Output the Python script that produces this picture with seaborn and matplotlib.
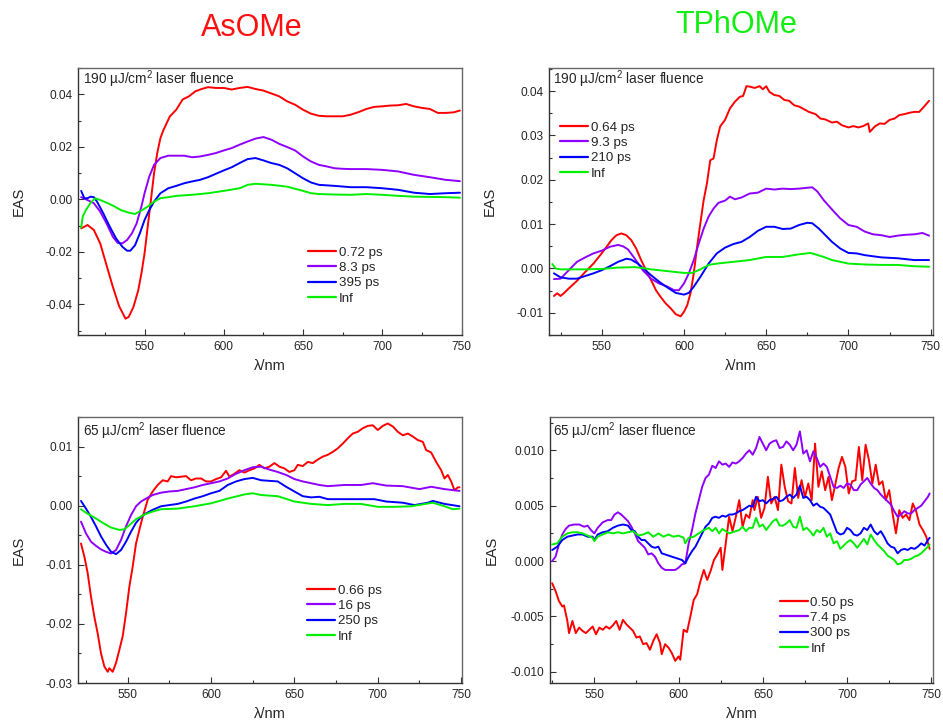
import matplotlib
matplotlib.use("Agg")
import matplotlib.pyplot as plt
import seaborn as sns
import pandas as pd
from matplotlib.ticker import MultipleLocator, FormatStrFormatter
from matplotlib.lines import Line2D

sns.set_style("ticks")
plt.rcParams["font.family"] = ["Liberation Sans", "DejaVu Sans"]
plt.rcParams["axes.unicode_minus"] = False
plt.rcParams["mathtext.default"] = "regular"

# ---------------- data (wavelength nm, EAS) ----------------
TITLES = ["AsOMe", "TPhOMe"]
FLUENCE = ["190 µJ/cm$^{2}$ laser fluence", "65 µJ/cm$^{2}$ laser fluence"]
SERIES_COLORS = ["#ff0000", "#8f00ff", "#0000ff", "#00ee00"]

LABELS_A190 = ["0.72 ps", "8.3 ps", "395 ps", "Inf"]
LABELS_T190 = ["0.64 ps", "9.3 ps", "210 ps", "Inf"]
LABELS_A65 = ["0.66 ps", "16 ps", "250 ps", "Inf"]
LABELS_T65 = ["0.50 ps", "7.4 ps", "300 ps", "Inf"]

A190_1 = [(510,-0.0111),(514,-0.0098),(518,-0.0117),(522,-0.0168),(526,-0.0251),(530,-0.0334),(534,-0.0408),(538,-0.0455),(540,-0.0448),(543,-0.0410),(546,-0.0347),(548,-0.0283),(550,-0.0206),(552,-0.0104),(554,-0.0003),(556,0.0099),(558,0.0176),(560,0.0233),(562,0.0265),(566,0.0316),(570,0.0341),(574,0.0380),(578,0.0392),(582,0.0411),(586,0.0420),(590,0.0427),(595,0.0424),(600,0.0424),(605,0.0418),(610,0.0424),(615,0.0428),(620,0.0420),(625,0.0414),(630,0.0403),(635,0.0392),(640,0.0373),(645,0.0360),(650,0.0341),(655,0.0326),(660,0.0318),(665,0.0316),(670,0.0316),(675,0.0316),(680,0.0322),(685,0.0332),(690,0.0344),(695,0.0352),(700,0.0354),(705,0.0357),(710,0.0358),(715,0.0363),(720,0.0354),(725,0.0348),(730,0.0344),(735,0.0329),(740,0.0329),(745,0.0331),(749,0.0338)]
A190_2 = [(510,0.0008),(514,-0.0003),(518,-0.0015),(522,-0.0047),(526,-0.0092),(530,-0.0143),(533,-0.0166),(536,-0.0168),(539,-0.0155),(542,-0.0130),(545,-0.0092),(548,-0.0028),(550,0.0023),(553,0.0087),(556,0.0131),(560,0.0157),(565,0.0166),(570,0.0166),(575,0.0166),(580,0.0160),(585,0.0163),(590,0.0169),(595,0.0176),(600,0.0186),(605,0.0195),(610,0.0208),(615,0.0220),(620,0.0231),(625,0.0237),(630,0.0227),(635,0.0211),(640,0.0199),(645,0.0186),(650,0.0163),(655,0.0144),(660,0.0131),(665,0.0125),(670,0.0118),(675,0.0116),(680,0.0115),(690,0.0115),(700,0.0112),(710,0.0106),(720,0.0093),(730,0.0084),(740,0.0074),(749,0.0069)]
A190_3 = [(510,0.0032),(512,0.0004),(514,0.0004),(516,0.0010),(518,0.0008),(520,-0.0009),(524,-0.0054),(528,-0.0104),(532,-0.0149),(536,-0.0181),(539,-0.0196),(541,-0.0196),(544,-0.0175),(547,-0.0130),(550,-0.0079),(553,-0.0041),(556,-0.0009),(560,0.0023),(565,0.0042),(570,0.0051),(575,0.0061),(580,0.0068),(585,0.0074),(590,0.0084),(595,0.0097),(600,0.0110),(605,0.0122),(610,0.0138),(615,0.0153),(620,0.0157),(625,0.0148),(630,0.0138),(635,0.0131),(640,0.0118),(645,0.0099),(650,0.0080),(655,0.0064),(660,0.0055),(670,0.0051),(680,0.0046),(690,0.0046),(700,0.0042),(710,0.0036),(720,0.0025),(730,0.0020),(740,0.0023),(749,0.0025)]
A190_4 = [(510,-0.0108),(511,-0.0066),(513,-0.0041),(516,-0.0013),(519,0.0004),(522,-0.0003),(526,-0.0013),(530,-0.0024),(535,-0.0041),(540,-0.0051),(544,-0.0056),(548,-0.0043),(552,-0.0028),(556,-0.0009),(560,0.0004),(565,0.0008),(570,0.0013),(580,0.0017),(590,0.0023),(600,0.0032),(610,0.0042),(615,0.0055),(620,0.0059),(630,0.0055),(640,0.0048),(650,0.0032),(655,0.0023),(660,0.0020),(670,0.0018),(680,0.0017),(690,0.0020),(700,0.0017),(710,0.0013),(720,0.0010),(730,0.0009),(740,0.0008),(749,0.0006)]

T190_1 = [(521,-0.0062),(523,-0.0056),(525,-0.0062),(527,-0.0056),(530,-0.0045),(535,-0.0028),(540,-0.0008),(545,0.0011),(550,0.0034),(553,0.0049),(556,0.0064),(559,0.0075),(562,0.0079),(565,0.0075),(568,0.0064),(571,0.0045),(574,0.0019),(577,-0.0004),(580,-0.0026),(583,-0.0049),(586,-0.0065),(589,-0.0079),(592,-0.0090),(595,-0.0103),(598,-0.0108),(600,-0.0098),(602,-0.0083),(604,-0.0056),(606,-0.0011),(608,0.0049),(610,0.0102),(612,0.0154),(614,0.0192),(616,0.0244),(618,0.0248),(620,0.0289),(622,0.0320),(625,0.0335),(628,0.0361),(631,0.0376),(634,0.0387),(636,0.0389),(638,0.0411),(640,0.0410),(643,0.0407),(646,0.0411),(648,0.0404),(650,0.0411),(652,0.0398),(655,0.0391),(658,0.0389),(661,0.0380),(664,0.0378),(667,0.0368),(670,0.0365),(673,0.0359),(676,0.0353),(680,0.0348),(683,0.0338),(686,0.0336),(690,0.0329),(693,0.0331),(696,0.0323),(700,0.0318),(703,0.0321),(706,0.0318),(709,0.0321),(712,0.0327),(713,0.0308),(716,0.0320),(719,0.0327),(722,0.0326),(725,0.0335),(728,0.0338),(731,0.0346),(734,0.0348),(737,0.0351),(740,0.0353),(743,0.0353),(746,0.0365),(749,0.0378)]
T190_2 = [(521,-0.0024),(525,-0.0023),(530,-0.0004),(535,0.0015),(540,0.0025),(545,0.0034),(550,0.0040),(555,0.0049),(560,0.0053),(563,0.0050),(566,0.0043),(570,0.0023),(575,-0.0004),(580,-0.0023),(585,-0.0034),(590,-0.0041),(594,-0.0049),(597,-0.0049),(600,-0.0034),(603,-0.0011),(606,0.0019),(609,0.0056),(612,0.0090),(615,0.0117),(618,0.0135),(621,0.0148),(625,0.0153),(628,0.0162),(631,0.0156),(635,0.0160),(640,0.0169),(645,0.0171),(650,0.0180),(655,0.0178),(660,0.0180),(665,0.0179),(670,0.0180),(675,0.0182),(678,0.0183),(681,0.0174),(685,0.0154),(690,0.0133),(695,0.0113),(700,0.0098),(705,0.0094),(710,0.0083),(715,0.0077),(720,0.0075),(725,0.0071),(730,0.0074),(735,0.0076),(740,0.0077),(745,0.0080),(749,0.0074)]
T190_3 = [(521,-0.0011),(525,-0.0020),(530,-0.0023),(535,-0.0023),(540,-0.0017),(545,-0.0011),(550,-0.0004),(555,0.0005),(560,0.0015),(565,0.0022),(568,0.0020),(572,0.0011),(576,-0.0002),(580,-0.0015),(585,-0.0030),(590,-0.0043),(595,-0.0055),(600,-0.0059),(603,-0.0055),(606,-0.0041),(610,-0.0019),(615,0.0011),(620,0.0034),(625,0.0047),(630,0.0055),(635,0.0060),(640,0.0071),(645,0.0085),(650,0.0094),(655,0.0094),(660,0.0089),(665,0.0090),(670,0.0098),(675,0.0103),(678,0.0102),(682,0.0090),(686,0.0075),(690,0.0060),(695,0.0045),(700,0.0035),(705,0.0034),(710,0.0030),(720,0.0025),(730,0.0023),(740,0.0019),(749,0.0019)]
T190_4 = [(520,0.0010),(522,0.0000),(525,-0.0002),(530,-0.0002),(540,-0.0002),(550,-0.0001),(560,0.0002),(570,0.0003),(575,0.0001),(580,-0.0002),(590,-0.0006),(600,-0.0010),(605,-0.0010),(610,-0.0002),(615,0.0008),(620,0.0011),(630,0.0015),(640,0.0019),(650,0.0026),(660,0.0026),(670,0.0032),(677,0.0035),(685,0.0026),(690,0.0019),(700,0.0011),(710,0.0009),(720,0.0008),(730,0.0008),(740,0.0005),(749,0.0004)]

A65_1 = [(522,-0.0064),(524,-0.0086),(526,-0.0114),(528,-0.0154),(530,-0.0188),(532,-0.0216),(534,-0.0250),(536,-0.0272),(538,-0.0281),(539,-0.0275),(541,-0.0281),(543,-0.0266),(545,-0.0244),(547,-0.0221),(549,-0.0182),(551,-0.0137),(553,-0.0103),(555,-0.0064),(557,-0.0041),(559,-0.0019),(562,0.0010),(565,0.0024),(568,0.0035),(571,0.0043),(574,0.0041),(576,0.0050),(579,0.0048),(582,0.0049),(585,0.0050),(588,0.0043),(591,0.0046),(594,0.0046),(597,0.0041),(600,0.0041),(603,0.0045),(606,0.0048),(609,0.0059),(611,0.0049),(614,0.0054),(617,0.0060),(620,0.0056),(623,0.0060),(626,0.0063),(629,0.0069),(632,0.0063),(635,0.0066),(638,0.0072),(641,0.0066),(644,0.0063),(647,0.0057),(650,0.0060),(652,0.0069),(655,0.0067),(658,0.0074),(661,0.0072),(664,0.0078),(667,0.0083),(670,0.0086),(673,0.0091),(676,0.0097),(679,0.0105),(682,0.0114),(685,0.0122),(688,0.0125),(691,0.0131),(694,0.0135),(697,0.0136),(700,0.0128),(703,0.0135),(706,0.0139),(709,0.0134),(712,0.0125),(715,0.0119),(718,0.0122),(721,0.0117),(724,0.0111),(727,0.0108),(729,0.0094),(732,0.0090),(735,0.0074),(738,0.0060),(740,0.0046),(742,0.0052),(744,0.0041),(746,0.0026),(748,0.0031),(749,0.0031)]
A65_2 = [(522,-0.0027),(525,-0.0047),(528,-0.0061),(531,-0.0068),(534,-0.0074),(537,-0.0078),(540,-0.0081),(543,-0.0075),(546,-0.0058),(549,-0.0035),(552,-0.0016),(555,-0.0001),(558,0.0007),(561,0.0012),(565,0.0018),(570,0.0022),(575,0.0024),(580,0.0025),(585,0.0028),(590,0.0031),(595,0.0035),(600,0.0038),(605,0.0041),(610,0.0046),(615,0.0054),(620,0.0060),(625,0.0065),(630,0.0066),(635,0.0061),(640,0.0057),(645,0.0052),(650,0.0045),(655,0.0041),(660,0.0038),(665,0.0035),(670,0.0033),(680,0.0035),(690,0.0035),(697,0.0038),(705,0.0034),(715,0.0033),(725,0.0028),(732,0.0032),(740,0.0028),(749,0.0025)]
A65_3 = [(522,0.0008),(525,-0.0005),(528,-0.0019),(531,-0.0035),(534,-0.0052),(537,-0.0066),(540,-0.0078),(543,-0.0082),(546,-0.0075),(549,-0.0061),(552,-0.0044),(555,-0.0029),(558,-0.0019),(561,-0.0013),(565,-0.0007),(570,-0.0001),(575,0.0001),(580,0.0003),(585,0.0007),(590,0.0012),(595,0.0016),(600,0.0021),(605,0.0025),(610,0.0035),(615,0.0041),(620,0.0045),(625,0.0047),(630,0.0043),(635,0.0042),(640,0.0041),(645,0.0032),(650,0.0024),(655,0.0016),(660,0.0014),(665,0.0015),(670,0.0011),(680,0.0011),(690,0.0011),(698,0.0011),(705,0.0007),(715,0.0005),(722,0.0001),(730,0.0005),(733,0.0008),(740,0.0003),(749,-0.0001)]
A65_4 = [(522,-0.0006),(525,-0.0012),(530,-0.0020),(535,-0.0029),(540,-0.0037),(545,-0.0041),(548,-0.0040),(551,-0.0033),(555,-0.0023),(560,-0.0015),(565,-0.0010),(570,-0.0006),(580,-0.0005),(590,-0.0001),(600,0.0004),(610,0.0012),(620,0.0019),(625,0.0021),(630,0.0018),(640,0.0016),(650,0.0007),(660,0.0003),(670,0.0001),(680,0.0003),(690,0.0003),(700,-0.0002),(710,-0.0002),(720,-0.0001),(733,0.0005),(740,-0.0001),(745,-0.0006),(749,-0.0005)]

T65_1 = [(525,-0.0020),(527,-0.0027),(529,-0.0036),(531,-0.0041),(532,-0.0040),(534,-0.0054),(535,-0.0065),(537,-0.0054),(539,-0.0065),(541,-0.0060),(543,-0.0063),(545,-0.0065),(547,-0.0062),(549,-0.0059),(551,-0.0066),(553,-0.0060),(555,-0.0062),(557,-0.0059),(559,-0.0061),(561,-0.0058),(563,-0.0054),(565,-0.0062),(567,-0.0053),(569,-0.0057),(571,-0.0060),(573,-0.0063),(575,-0.0069),(577,-0.0068),(579,-0.0075),(581,-0.0074),(583,-0.0080),(585,-0.0072),(587,-0.0066),(589,-0.0074),(590,-0.0084),(592,-0.0075),(594,-0.0078),(596,-0.0083),(598,-0.0090),(600,-0.0086),(601,-0.0089),(603,-0.0062),(605,-0.0064),(607,-0.0050),(609,-0.0035),(611,-0.0030),(613,-0.0018),(615,-0.0008),(617,-0.0017),(619,-0.0009),(621,0.0001),(623,0.0006),(625,0.0012),(626,-0.0008),(628,0.0016),(630,0.0040),(632,0.0027),(634,0.0040),(636,0.0055),(638,0.0031),(640,0.0042),(642,0.0039),(644,0.0055),(645,0.0046),(647,0.0058),(649,0.0039),(651,0.0048),(653,0.0076),(655,0.0052),(657,0.0058),(659,0.0046),(661,0.0087),(663,0.0067),(665,0.0054),(667,0.0052),(669,0.0084),(671,0.0057),(673,0.0073),(675,0.0058),(677,0.0070),(679,0.0055),(681,0.0106),(683,0.0067),(685,0.0081),(687,0.0064),(689,0.0076),(691,0.0055),(693,0.0069),(695,0.0084),(697,0.0094),(699,0.0085),(701,0.0061),(703,0.0072),(705,0.0073),(707,0.0103),(709,0.0073),(711,0.0105),(713,0.0091),(715,0.0070),(717,0.0087),(719,0.0069),(721,0.0072),(723,0.0055),(725,0.0064),(727,0.0043),(729,0.0025),(731,0.0046),(733,0.0039),(735,0.0042),(737,0.0037),(739,0.0052),(741,0.0045),(743,0.0033),(745,0.0028),(747,0.0022),(749,0.0011)]
T65_2 = [(525,0.0000),(527,0.0004),(529,0.0015),(531,0.0024),(533,0.0029),(535,0.0032),(538,0.0033),(541,0.0033),(544,0.0031),(546,0.0032),(548,0.0028),(550,0.0025),(552,0.0030),(555,0.0035),(558,0.0037),(560,0.0037),(562,0.0042),(564,0.0044),(566,0.0042),(568,0.0039),(570,0.0036),(572,0.0031),(574,0.0025),(576,0.0018),(578,0.0015),(580,0.0012),(582,0.0006),(584,0.0007),(586,0.0004),(588,-0.0002),(590,-0.0006),(592,-0.0008),(594,-0.0008),(596,-0.0008),(598,-0.0008),(600,-0.0006),(602,-0.0003),(604,-0.0002),(606,0.0016),(608,0.0028),(610,0.0043),(612,0.0055),(614,0.0067),(616,0.0075),(618,0.0078),(620,0.0086),(622,0.0084),(624,0.0090),(626,0.0087),(628,0.0088),(630,0.0085),(632,0.0089),(634,0.0088),(636,0.0090),(638,0.0093),(640,0.0097),(642,0.0100),(644,0.0096),(646,0.0102),(648,0.0112),(650,0.0106),(652,0.0100),(654,0.0106),(656,0.0108),(658,0.0109),(660,0.0102),(662,0.0103),(664,0.0108),(666,0.0105),(668,0.0100),(670,0.0105),(672,0.0117),(674,0.0097),(676,0.0100),(678,0.0090),(680,0.0099),(682,0.0093),(684,0.0085),(686,0.0088),(688,0.0085),(690,0.0076),(692,0.0067),(694,0.0066),(696,0.0068),(698,0.0066),(700,0.0070),(702,0.0069),(704,0.0064),(706,0.0064),(708,0.0069),(710,0.0072),(712,0.0075),(714,0.0070),(716,0.0066),(718,0.0064),(720,0.0060),(722,0.0057),(724,0.0054),(726,0.0051),(728,0.0045),(730,0.0040),(732,0.0042),(734,0.0045),(736,0.0043),(738,0.0043),(740,0.0046),(742,0.0048),(744,0.0050),(746,0.0054),(748,0.0058),(749,0.0061)]
T65_3 = [(525,0.0010),(528,0.0013),(531,0.0019),(534,0.0022),(537,0.0023),(540,0.0024),(543,0.0024),(546,0.0022),(549,0.0022),(550,0.0019),(552,0.0024),(555,0.0026),(558,0.0027),(561,0.0030),(564,0.0032),(567,0.0033),(570,0.0032),(572,0.0028),(574,0.0027),(576,0.0022),(578,0.0019),(580,0.0019),(582,0.0016),(584,0.0013),(586,0.0012),(588,0.0013),(590,0.0007),(592,0.0006),(594,0.0005),(596,0.0004),(598,0.0003),(600,0.0002),(602,0.0001),(604,-0.0002),(606,0.0004),(608,0.0009),(610,0.0013),(612,0.0019),(614,0.0025),(616,0.0031),(618,0.0034),(620,0.0039),(622,0.0040),(624,0.0039),(626,0.0041),(628,0.0040),(630,0.0042),(632,0.0042),(634,0.0043),(636,0.0045),(638,0.0046),(640,0.0048),(642,0.0050),(644,0.0049),(646,0.0058),(648,0.0054),(650,0.0055),(652,0.0052),(654,0.0055),(656,0.0056),(658,0.0058),(660,0.0054),(662,0.0055),(664,0.0058),(666,0.0060),(668,0.0057),(670,0.0060),(672,0.0068),(674,0.0057),(676,0.0058),(678,0.0055),(680,0.0050),(682,0.0052),(684,0.0049),(686,0.0048),(688,0.0045),(690,0.0042),(692,0.0034),(694,0.0026),(696,0.0024),(698,0.0025),(700,0.0030),(702,0.0028),(704,0.0024),(706,0.0023),(708,0.0025),(710,0.0030),(712,0.0028),(714,0.0033),(716,0.0027),(718,0.0024),(720,0.0027),(722,0.0022),(724,0.0016),(726,0.0013),(728,0.0012),(730,0.0007),(732,0.0010),(734,0.0011),(736,0.0010),(738,0.0012),(740,0.0011),(742,0.0013),(744,0.0016),(746,0.0014),(748,0.0019),(749,0.0021)]
T65_4 = [(525,0.0015),(528,0.0016),(531,0.0022),(534,0.0025),(537,0.0026),(540,0.0026),(543,0.0025),(546,0.0023),(549,0.0021),(550,0.0018),(552,0.0022),(555,0.0024),(558,0.0026),(561,0.0025),(564,0.0026),(567,0.0025),(570,0.0026),(573,0.0027),(576,0.0023),(579,0.0024),(582,0.0026),(585,0.0022),(588,0.0025),(591,0.0022),(594,0.0024),(597,0.0022),(600,0.0023),(603,0.0021),(604,0.0016),(606,0.0021),(609,0.0022),(612,0.0025),(615,0.0028),(618,0.0030),(620,0.0027),(622,0.0030),(624,0.0025),(626,0.0029),(628,0.0027),(630,0.0025),(632,0.0026),(634,0.0027),(636,0.0028),(638,0.0031),(640,0.0027),(642,0.0030),(644,0.0030),(646,0.0039),(648,0.0031),(650,0.0033),(652,0.0028),(654,0.0032),(656,0.0036),(658,0.0038),(660,0.0032),(662,0.0032),(664,0.0034),(666,0.0037),(668,0.0031),(670,0.0030),(672,0.0040),(674,0.0028),(676,0.0030),(678,0.0027),(680,0.0023),(682,0.0028),(684,0.0026),(686,0.0030),(688,0.0022),(690,0.0025),(692,0.0016),(694,0.0018),(696,0.0011),(698,0.0014),(700,0.0017),(702,0.0019),(704,0.0016),(706,0.0012),(708,0.0016),(710,0.0020),(712,0.0015),(714,0.0024),(716,0.0019),(718,0.0015),(720,0.0012),(722,0.0009),(724,0.0005),(726,0.0003),(728,0.0001),(730,-0.0003),(732,-0.0002),(734,0.0001),(736,0.0001),(738,0.0002),(740,0.0004),(742,0.0005),(744,0.0007),(746,0.0010),(748,0.0013),(749,0.0015)]

# ---------------- figure ----------------
W, H = 943, 724
fig = plt.figure(figsize=(W / 100, H / 100), dpi=100)


def px_axes(l, t, r, b):
    return fig.add_axes([l / W, 1 - b / H, (r - l) / W, (b - t) / H])


panels = [
    dict(box=(78, 68, 462, 335), curves=[A190_1, A190_2, A190_3, A190_4], labels=LABELS_A190,
         xlim=(508, 750.3), ylim=(-0.0517, 0.0500), ymaj=0.02, ymin=0.01, fmt="%.2f",
         leg=(0.599, 0.332), txt=FLUENCE[0], txy=(0.012, 0.958)),
    dict(box=(549, 68, 933, 335), curves=[T190_1, T190_2, T190_3, T190_4], labels=LABELS_T190,
         xlim=(518, 751.4), ylim=(-0.0150, 0.0452), ymaj=0.01, ymin=0.005, fmt="%.2f",
         leg=(0.029, 0.800), txt=FLUENCE[0], txy=(0.011, 0.958)),
    dict(box=(78, 417, 462, 683), curves=[A65_1, A65_2, A65_3, A65_4], labels=LABELS_A65,
         xlim=(520.2, 750.5), ylim=(-0.0300, 0.0150), ymaj=0.01, ymin=0.005, fmt="%.2f",
         leg=(0.596, 0.371), txt=FLUENCE[1], txy=(0.014, 0.946)),
    dict(box=(550, 417, 933, 683), curves=[T65_1, T65_2, T65_3, T65_4], labels=LABELS_T65,
         xlim=(523.7, 751.0), ylim=(-0.0110, 0.0130), ymaj=0.005, ymin=0.0025, fmt="%.3f",
         leg=(0.600, 0.326), txt=FLUENCE[1], txy=(0.007, 0.946)),
]

for p in panels:
    ax = px_axes(*p["box"])
    for data, color, lab in zip(p["curves"], SERIES_COLORS, p["labels"]):
        df = pd.DataFrame(data, columns=["wl", "eas"])
        sns.lineplot(data=df, x="wl", y="eas", ax=ax, color=color, linewidth=1.4,
                     estimator=None, sort=False, legend=False)
    ax.set_xlim(*p["xlim"])
    ax.set_ylim(*p["ylim"])
    ax.xaxis.set_major_locator(MultipleLocator(50))
    ax.xaxis.set_minor_locator(MultipleLocator(25))
    ax.yaxis.set_major_locator(MultipleLocator(p["ymaj"]))
    ax.yaxis.set_minor_locator(MultipleLocator(p["ymin"]))
    ax.yaxis.set_major_formatter(FormatStrFormatter(p["fmt"]))
    ax.tick_params(which="major", direction="in", length=4, width=0.8, labelsize=8.6,
                   color="#333333", pad=4)
    ax.tick_params(which="minor", direction="in", length=2.5, width=0.8, color="#333333")
    for side in ["left", "bottom"]:
        ax.spines[side].set_color("#333333")
        ax.spines[side].set_linewidth(1.0)
    for side in ["top", "right"]:
        ax.spines[side].set_visible(True)
        ax.spines[side].set_color("#666666")
        ax.spines[side].set_linewidth(1.0)
    ax.set_xlabel("λ/nm", fontsize=10.5)
    ax.set_ylabel("EAS", fontsize=10.5)
    ax.xaxis.set_label_coords(0.5, -0.09)
    ax.yaxis.set_label_coords(-0.135, 0.5)
    ax.text(p["txy"][0], p["txy"][1], p["txt"], transform=ax.transAxes,
            fontsize=9.8, va="center", ha="left")
    handles = [Line2D([0], [0], color=c, lw=1.6) for c in SERIES_COLORS]
    ax.legend(handles, p["labels"], loc="upper left", bbox_to_anchor=p["leg"],
              frameon=False, fontsize=9.6, handlelength=2.1, handletextpad=0.2,
              labelspacing=0.225, borderpad=0, borderaxespad=0)

fig.text(252 / W, 1 - 28 / H, TITLES[0], color="#ff1010", fontsize=22, ha="center", va="center")
fig.text(736 / W, 1 - 25 / H, TITLES[1], color="#11ee11", fontsize=22, ha="center", va="center")

fig.savefig("out.png", dpi=100)
